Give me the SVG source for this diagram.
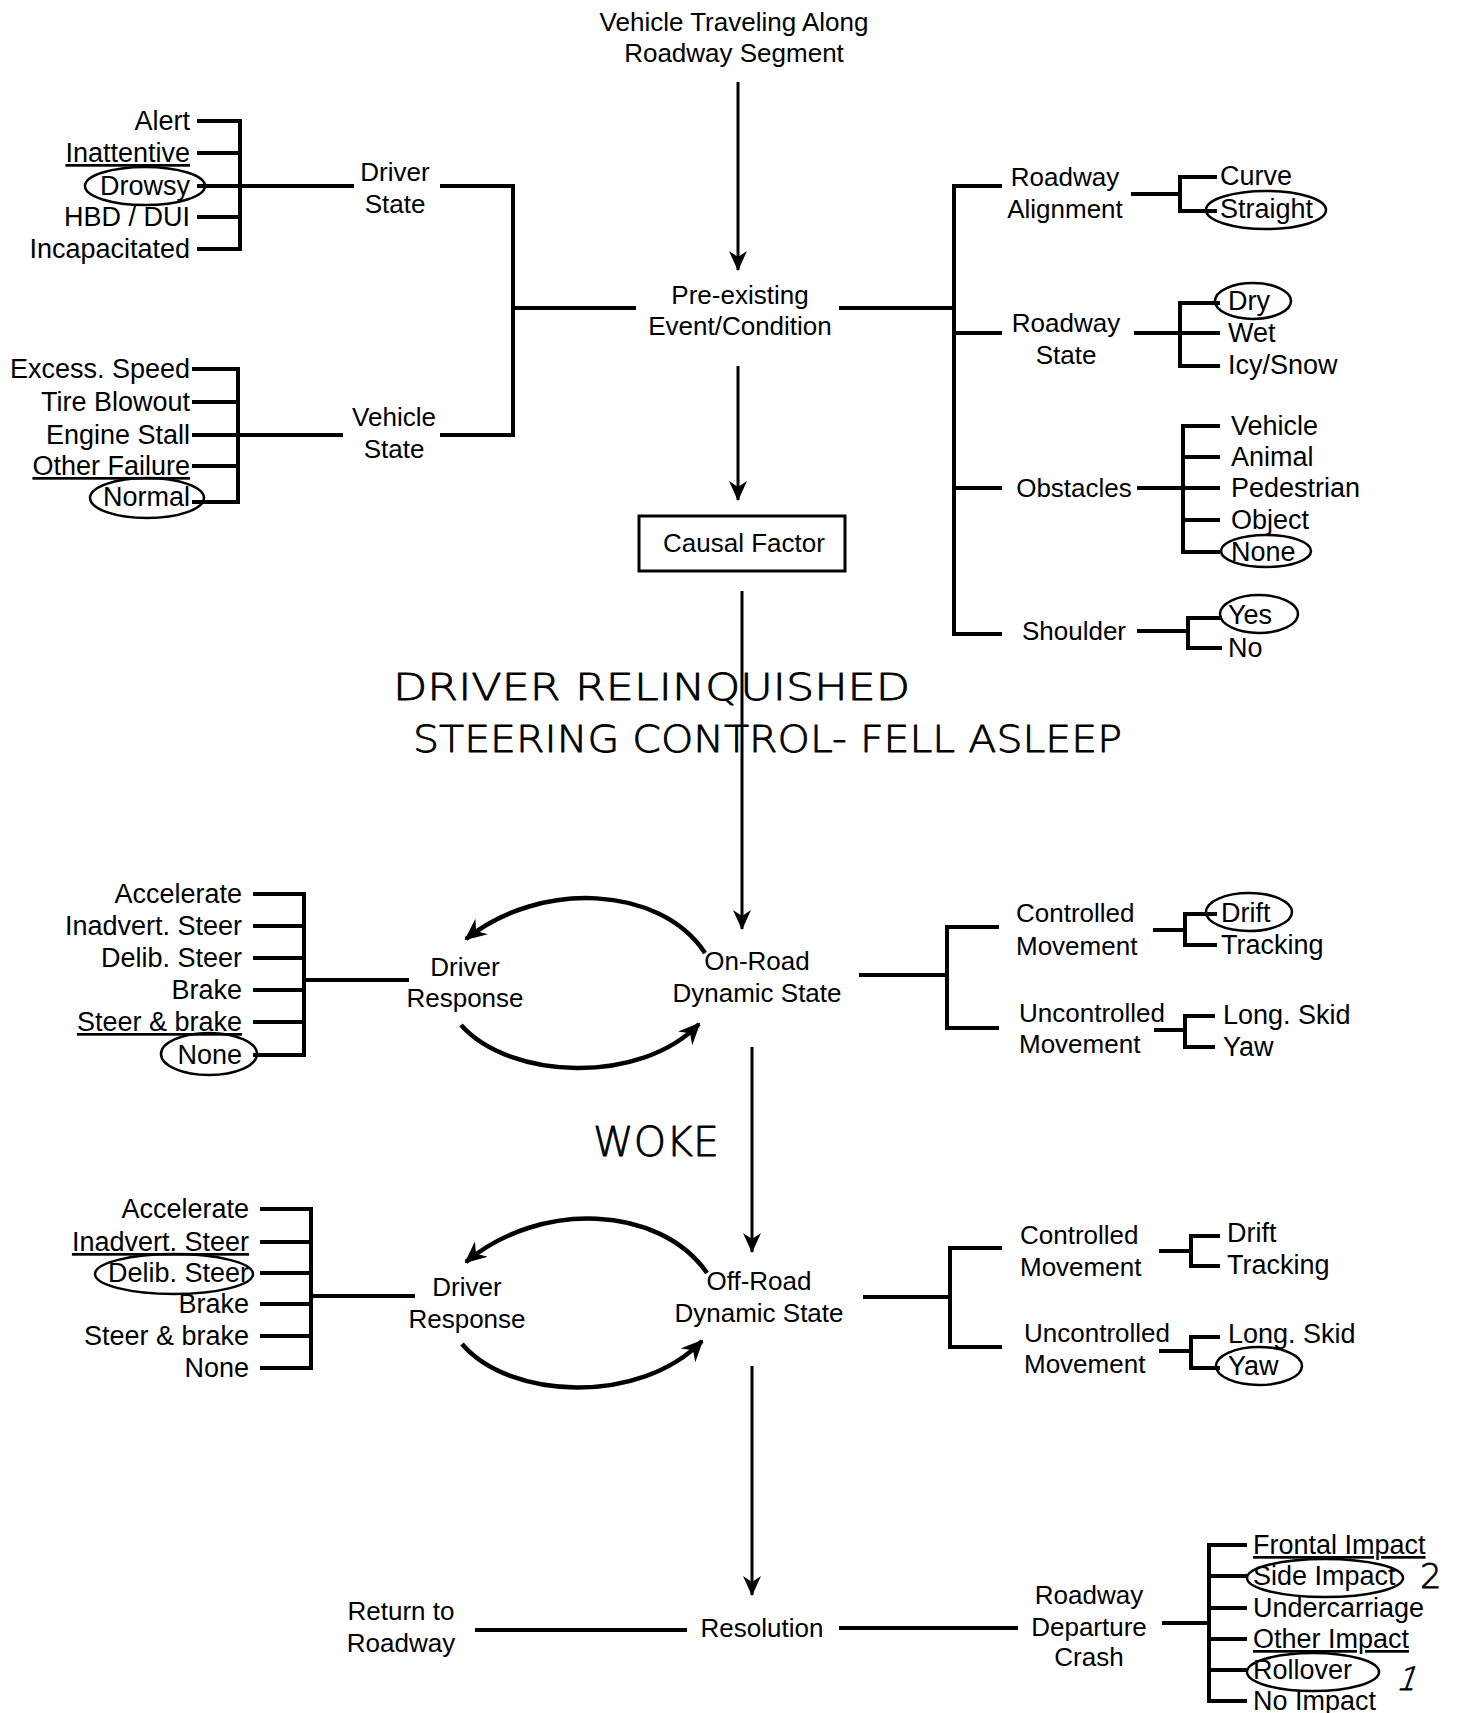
<svg xmlns="http://www.w3.org/2000/svg" width="1466" height="1713" viewBox="0 0 1466 1713">
<style>
.t{font-family:"Liberation Sans",Arial,sans-serif;font-size:26px;fill:#000}
.o{font-size:27px}
.r{text-anchor:end}
.m{text-anchor:middle}
.ln{stroke:#000;stroke-width:4;fill:none;stroke-linecap:square}
.ar{stroke:#000;stroke-width:3;fill:none;marker-end:url(#ah)}
.ca{stroke:#000;stroke-width:4.5;fill:none;marker-end:url(#ah2)}
.ov{fill:none;stroke:#000;stroke-width:2.5}
.hw{font-family:"DejaVu Sans",sans-serif;font-weight:200;fill:#000;stroke:#000;stroke-width:0.8;stroke-linejoin:round}
.bx{fill:#fff;stroke:#000;stroke-width:3}
</style>
<defs>
<marker id="ah" markerUnits="userSpaceOnUse" markerWidth="20" markerHeight="18" viewBox="0 0 20 18" refX="19" refY="9" orient="auto">
<path d="M0,0 L20,9 L0,18 L6,9 z" fill="#000"/>
</marker>
<marker id="ah2" markerUnits="userSpaceOnUse" markerWidth="22" markerHeight="20" viewBox="0 0 22 20" refX="20" refY="10" orient="auto">
<path d="M0,0 L22,10 L0,20 L7,10 z" fill="#000"/>
</marker>
</defs>
<rect width="1466" height="1713" fill="#fff"/>

<g id="connectors">
<path class="ln" d="M199,121H240M199,153H240M199,186H240M199,217H240M199,249H240M240,121V249M240,186H352M442,186H513V435H442M513,308H634"/>
<path class="ln" d="M194,369H238M194,402H238M194,435H238M194,466H238M194,502H238M238,369V502M238,435H341"/>
<path class="ln" d="M841,308H954M954,186V634M954,186H1000M954,333H1000M954,488H1000M954,634H1000"/>
<path class="ln" d="M1133,194H1180M1180,177V211M1180,177H1215M1180,211H1215"/>
<path class="ln" d="M1136,333H1180M1180,303V366M1180,303H1218M1180,333H1218M1180,366H1218"/>
<path class="ln" d="M1139,488H1183M1183,426V552M1183,426H1218M1183,457H1218M1183,488H1218M1183,520H1218M1183,552H1218"/>
<path class="ln" d="M1139,631H1188M1188,618V648M1188,618H1220M1188,648H1220"/>
<path class="ln" d="M304,894V1055M255,894H304M255,926H304M255,958H304M255,990H304M255,1022H304M255,1055H304M304,980H407"/>
<path class="ln" d="M861,975H947M947,927V1028M947,927H997M947,1028H997"/>
<path class="ln" d="M1155,930H1185M1185,914V945M1185,914H1215M1185,945H1215"/>
<path class="ln" d="M1156,1030H1185M1185,1016V1047M1185,1016H1213M1185,1047H1213"/>
<path class="ln" d="M311,1209V1368M262,1209H311M262,1242H311M262,1273H311M262,1304H311M262,1336H311M262,1368H311M311,1296H413"/>
<path class="ln" d="M865,1297H950M950,1248V1347M950,1248H1000M950,1347H1000"/>
<path class="ln" d="M1161,1251H1191M1191,1236V1266M1191,1236H1218M1191,1266H1218"/>
<path class="ln" d="M1161,1351H1191M1191,1337V1368M1191,1337H1218M1191,1368H1218"/>
<path class="ln" d="M477,1630H685M841,1628H1016"/>
<path class="ln" d="M1164,1623H1209M1209,1545V1701M1209,1545H1245M1209,1576H1245M1209,1608H1245M1209,1639H1245M1209,1670H1245M1209,1701H1245"/>
<path class="ar" d="M738,82V270"/>
<path class="ar" d="M738,366V500"/>
<path class="ar" d="M742,591V929"/>
<path class="ar" d="M752,1047V1252"/>
<path class="ar" d="M752,1366V1595"/>
<path class="ca" d="M705,953C660,885 540,880 466,939"/>
<path class="ca" d="M461,1025C510,1080 640,1085 699,1024"/>
<path class="ca" d="M707,1273C660,1205 540,1200 466,1262"/>
<path class="ca" d="M462,1344C510,1400 640,1405 702,1341"/>
</g>

<g id="title"><text class="t m" x="734" y="31">Vehicle Traveling Along</text><text class="t m" x="734" y="62">Roadway Segment</text></g>
<g id="preexisting"><text class="t m" x="740" y="304">Pre-existing</text><text class="t m" x="740" y="335">Event/Condition</text></g>
<g id="driver-state"><text class="t m" x="395" y="181">Driver</text><text class="t m" x="395" y="213">State</text></g>
<g id="driver-state-options">
<text class="t o r" x="190" y="130">Alert</text>
<text class="t o r" x="190" y="162" text-decoration="underline">Inattentive</text>
<text class="t o r" x="190" y="195">Drowsy</text>
<ellipse class="ov" cx="145" cy="186" rx="60" ry="19"/>
<text class="t o r" x="190" y="226">HBD / DUI</text>
<text class="t o r" x="190" y="258">Incapacitated</text>
</g>
<g id="vehicle-state"><text class="t m" x="394" y="426">Vehicle</text><text class="t m" x="394" y="458">State</text></g>
<g id="vehicle-state-options">
<text class="t o r" x="190" y="378">Excess. Speed</text>
<text class="t o r" x="190" y="411">Tire Blowout</text>
<text class="t o r" x="190" y="444">Engine Stall</text>
<text class="t o r" x="190" y="475" text-decoration="underline">Other Failure</text>
<text class="t o r" x="190" y="506">Normal</text>
<ellipse class="ov" cx="147" cy="498" rx="57" ry="20"/>
</g>
<g id="causal-factor"><rect class="bx" x="639" y="516" width="206" height="55"/><text class="t m" x="744" y="552">Causal Factor</text></g>
<g id="roadway-alignment"><text class="t m" x="1065" y="186">Roadway</text><text class="t m" x="1065" y="218">Alignment</text>
<text class="t o" x="1220" y="185">Curve</text><text class="t o" x="1220" y="218">Straight</text>
<ellipse class="ov" cx="1266" cy="210" rx="60" ry="19"/></g>
<g id="roadway-state"><text class="t m" x="1066" y="332">Roadway</text><text class="t m" x="1066" y="364">State</text>
<text class="t o" x="1228" y="310">Dry</text><text class="t o" x="1228" y="342">Wet</text><text class="t o" x="1228" y="374">Icy/Snow</text>
<ellipse class="ov" cx="1253" cy="301" rx="38" ry="18"/></g>
<g id="obstacles"><text class="t m" x="1074" y="497">Obstacles</text>
<text class="t o" x="1231" y="435">Vehicle</text><text class="t o" x="1231" y="466">Animal</text><text class="t o" x="1231" y="497">Pedestrian</text><text class="t o" x="1231" y="529">Object</text><text class="t o" x="1231" y="561">None</text>
<ellipse class="ov" cx="1266" cy="551" rx="45" ry="16"/></g>
<g id="shoulder"><text class="t m" x="1074" y="640">Shoulder</text>
<text class="t o" x="1228" y="624">Yes</text><text class="t o" x="1228" y="657">No</text>
<ellipse class="ov" cx="1259" cy="614" rx="39" ry="19"/></g>

<g id="note-relinquished">
<text class="hw" x="393" y="700" font-size="38" textLength="517" lengthAdjust="spacingAndGlyphs">DRIVER RELINQUISHED</text>
<text class="hw" x="413" y="752" font-size="38" textLength="709" lengthAdjust="spacingAndGlyphs">STEERING CONTROL- FELL ASLEEP</text>
</g>

<g id="on-road"><text class="t m" x="757" y="970">On-Road</text><text class="t m" x="757" y="1002">Dynamic State</text></g>
<g id="driver-response-1"><text class="t m" x="465" y="976">Driver</text><text class="t m" x="465" y="1007">Response</text></g>
<g id="response-options-1">
<text class="t o r" x="242" y="903">Accelerate</text>
<text class="t o r" x="242" y="935">Inadvert. Steer</text>
<text class="t o r" x="242" y="967">Delib. Steer</text>
<text class="t o r" x="242" y="999">Brake</text>
<text class="t o r" x="242" y="1031" text-decoration="underline">Steer &amp; brake</text>
<text class="t o r" x="242" y="1064">None</text>
<ellipse class="ov" cx="209" cy="1054" rx="48" ry="21"/>
</g>
<g id="controlled-1"><text class="t" x="1016" y="922">Controlled</text><text class="t" x="1016" y="955">Movement</text>
<text class="t o" x="1221" y="922">Drift</text><text class="t o" x="1221" y="954">Tracking</text>
<ellipse class="ov" cx="1249" cy="912" rx="43" ry="19"/></g>
<g id="uncontrolled-1"><text class="t" x="1019" y="1022">Uncontrolled</text><text class="t" x="1019" y="1053">Movement</text>
<text class="t o" x="1223" y="1024">Long. Skid</text><text class="t o" x="1223" y="1056">Yaw</text></g>

<g id="note-woke"><text class="hw" x="593" y="1156" font-size="40" textLength="126" lengthAdjust="spacingAndGlyphs">WOKE</text></g>

<g id="off-road"><text class="t m" x="759" y="1290">Off-Road</text><text class="t m" x="759" y="1322">Dynamic State</text></g>
<g id="driver-response-2"><text class="t m" x="467" y="1296">Driver</text><text class="t m" x="467" y="1328">Response</text></g>
<g id="response-options-2">
<text class="t o r" x="249" y="1218">Accelerate</text>
<text class="t o r" x="249" y="1251" text-decoration="underline">Inadvert. Steer</text>
<text class="t o r" x="249" y="1282">Delib. Steer</text>
<ellipse class="ov" cx="174" cy="1274" rx="79" ry="20"/>
<text class="t o r" x="249" y="1313">Brake</text>
<text class="t o r" x="249" y="1345">Steer &amp; brake</text>
<text class="t o r" x="249" y="1377">None</text>
</g>
<g id="controlled-2"><text class="t" x="1020" y="1244">Controlled</text><text class="t" x="1020" y="1276">Movement</text>
<text class="t o" x="1227" y="1242">Drift</text><text class="t o" x="1227" y="1274">Tracking</text></g>
<g id="uncontrolled-2"><text class="t" x="1024" y="1342">Uncontrolled</text><text class="t" x="1024" y="1373">Movement</text>
<text class="t o" x="1228" y="1343">Long. Skid</text><text class="t o" x="1228" y="1375">Yaw</text>
<ellipse class="ov" cx="1259" cy="1366" rx="43" ry="19"/></g>

<g id="resolution"><text class="t m" x="762" y="1637">Resolution</text></g>
<g id="return-to-roadway"><text class="t m" x="401" y="1620">Return to</text><text class="t m" x="401" y="1652">Roadway</text></g>
<g id="roadway-departure-crash"><text class="t m" x="1089" y="1604">Roadway</text><text class="t m" x="1089" y="1636">Departure</text><text class="t m" x="1089" y="1666">Crash</text></g>
<g id="crash-options">
<text class="t o" x="1253" y="1554" text-decoration="underline">Frontal Impact</text>
<text class="t o" x="1253" y="1585">Side Impact</text>
<ellipse class="ov" cx="1325" cy="1578" rx="78" ry="19"/>
<text class="t o" x="1253" y="1617">Undercarriage</text>
<text class="t o" x="1253" y="1648" text-decoration="underline">Other Impact</text>
<text class="t o" x="1253" y="1679">Rollover</text>
<ellipse class="ov" cx="1313" cy="1672" rx="66" ry="19"/>
<text class="t o" x="1253" y="1710">No Impact</text>
<text class="hw" x="1420" y="1588" font-size="34" stroke-width="1.6">2</text>
<text class="hw" x="2010" y="1690" font-size="32" stroke-width="1.6" transform="skewX(-20)">1</text>
</g>
</svg>
